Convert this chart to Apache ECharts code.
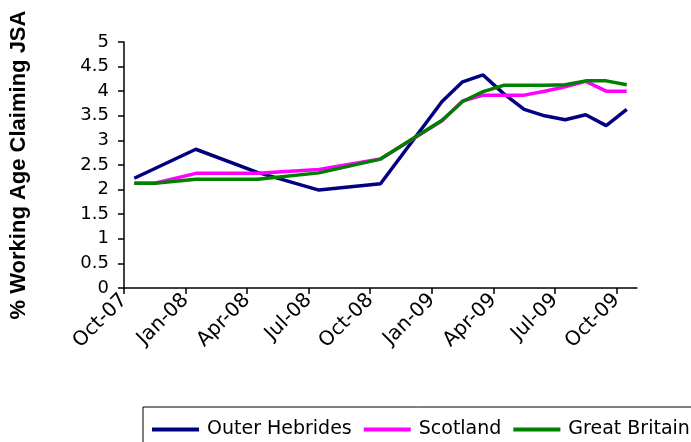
<!DOCTYPE html>
<html>
<head>
<meta charset="utf-8">
<style>
  html, body { margin: 0; padding: 0; background: #fff; }
  #chart { width: 691px; height: 442px; }
</style>
<script src="https://cdn.jsdelivr.net/npm/echarts@6/dist/echarts.min.js"></script>
</head>
<body>
<div id="chart"></div>
<script>
// months where at least one line bends
const months = ['Oct-07', 'Nov-07', 'Jan-08', 'Apr-08', 'Jul-08', 'Oct-08', 'Jan-09', 'Feb-09',
    'Mar-09', 'Apr-09', 'May-09', 'Jun-09', 'Jul-09', 'Aug-09', 'Sep-09', 'Oct-09'];
const outerHebrides = [2.23, null, 2.82, 2.35, 1.99, 2.12, 3.79, 4.19, 4.33, 3.95, 3.63, 3.5, 3.42, 3.52, 3.3, 3.63];
const scotland = [2.13, 2.13, 2.33, 2.33, 2.41, 2.62, 3.4, 3.8, 3.92, 3.92, 3.92, 4.0, 4.09, 4.2, 4.0, 4.0];
const greatBritain = [2.13, 2.13, 2.21, 2.21, 2.34, 2.62, 3.41, 3.79, 3.99, 4.12, 4.12, 4.12, 4.13, 4.21, 4.21, 4.13];
const tickLabels = ['Oct-07', 'Jan-08', 'Apr-08', 'Jul-08', 'Oct-08', 'Jan-09', 'Apr-09', 'Jul-09', 'Oct-09'];

const monNames = ['Jan', 'Feb', 'Mar', 'Apr', 'May', 'Jun', 'Jul', 'Aug', 'Sep', 'Oct', 'Nov', 'Dec'];
// months counted from Oct-07
function monthIdx(s) {
    let [m, y] = s.split('-');
    return (2000 + Number(y)) * 12 + monNames.indexOf(m) - (2007 * 12 + 9);
}
function pairs(vals) {
    return months.map((m, i) => [monthIdx(m) + 0.5, vals[i]]);
}
const tickVals = tickLabels.map(monthIdx);

let chart = echarts.init(document.getElementById('chart'));
const font = 'DejaVu Sans, sans-serif';

let option = {
    animation: false,
    color: ['#000080', '#FF00FF', '#008000'],
    grid: {
        left: 124,
        right: 54,
        top: 42,
        bottom: 154,
        containLabel: false,
        outerBoundsMode: 'none'
    },
    legend: {
        left: 143,
        top: 407,
        width: 620,
        padding: [13, 8, 12, 9],
        borderColor: '#000',
        borderWidth: 1,
        icon: 'rect',
        itemWidth: 47,
        itemHeight: 4,
        itemGap: 12,
        textStyle: {
            fontFamily: font,
            fontSize: 19,
            color: '#000',
            padding: [0, 0, 0, 3]
        },
        data: ['Outer Hebrides', 'Scotland', 'Great Britain']
    },
    xAxis: {
        type: 'value',
        min: 0,
        max: 25,
        interval: 3,
        splitLine: { show: false },
        axisLine: { show: true, lineStyle: { color: '#000', width: 1.5 } },
        axisTick: {
            show: true,
            length: 6,
            customValues: tickVals,
            lineStyle: { color: '#000', width: 1.5 }
        },
        axisLabel: {
            customValues: tickVals,
            rotate: 45,
            margin: 9,
            fontFamily: font,
            fontSize: 20,
            color: '#000',
            formatter: v => tickLabels[tickVals.indexOf(v)] || ''
        }
    },
    yAxis: {
        type: 'value',
        min: 0,
        max: 5,
        interval: 0.5,
        name: '% Working Age Claiming JSA',
        nameLocation: 'middle',
        nameGap: 94,
        nameTextStyle: {
            fontFamily: 'Liberation Sans, Arial, sans-serif',
            fontSize: 22,
            fontWeight: 'bold',
            color: '#000'
        },
        splitLine: { show: false },
        axisLine: { show: true, lineStyle: { color: '#000', width: 1.5 } },
        axisTick: { show: true, length: 6, lineStyle: { color: '#000', width: 1.5 } },
        axisLabel: {
            margin: 15,
            fontFamily: font,
            fontSize: 18,
            color: '#000'
        }
    },
    series: [
        {
            name: 'Outer Hebrides',
            type: 'line',
            symbol: 'none',
            connectNulls: true,
            lineStyle: { width: 3.5 },
            data: pairs(outerHebrides)
        },
        {
            name: 'Scotland',
            type: 'line',
            symbol: 'none',
            lineStyle: { width: 3.5 },
            data: pairs(scotland)
        },
        {
            name: 'Great Britain',
            type: 'line',
            symbol: 'none',
            lineStyle: { width: 3.5 },
            data: pairs(greatBritain)
        }
    ]
};

chart.setOption(option);
</script>
</body>
</html>
